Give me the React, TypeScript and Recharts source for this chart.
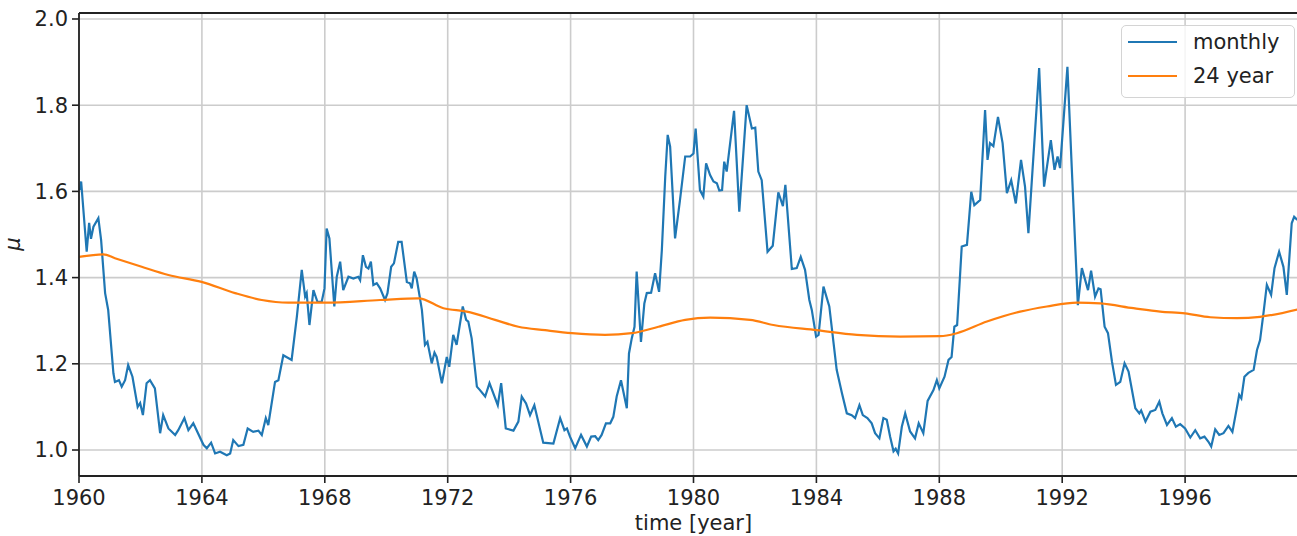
import React from 'react';
import { LineChart, Line, XAxis, YAxis, CartesianGrid, ReferenceLine, Label } from 'recharts';

// monthly mu (time in decimal years)
const monthlyT = [
  1960.03, 1960.07, 1960.25, 1960.33, 1960.39, 1960.47, 1960.63, 1960.72, 1960.85, 1960.95,
  1961.12, 1961.17, 1961.3, 1961.39, 1961.5, 1961.6, 1961.74, 1961.91, 1961.99, 1962.08,
  1962.2, 1962.31, 1962.47, 1962.64, 1962.74, 1962.91, 1963.13, 1963.23, 1963.43, 1963.56,
  1963.72, 1964.05, 1964.16, 1964.3, 1964.43, 1964.59, 1964.81, 1964.92, 1965.02, 1965.19,
  1965.35, 1965.49, 1965.67, 1965.84, 1965.95, 1966.08, 1966.16, 1966.38, 1966.49, 1966.65,
  1966.92, 1967.09, 1967.25, 1967.36, 1967.41, 1967.5, 1967.63, 1967.76, 1967.9, 1967.99,
  1968.06, 1968.15, 1968.31, 1968.39, 1968.5, 1968.6, 1968.77, 1968.93, 1969.09, 1969.15,
  1969.24, 1969.34, 1969.42, 1969.5, 1969.58, 1969.69, 1969.8, 1969.96, 1970.04, 1970.16,
  1970.25, 1970.39, 1970.5, 1970.67, 1970.77, 1970.83, 1970.91, 1970.99, 1971.16, 1971.26,
  1971.34, 1971.48, 1971.57, 1971.64, 1971.81, 1971.97, 1972.05, 1972.18, 1972.29, 1972.49,
  1972.6, 1972.67, 1972.78, 1972.95, 1973.05, 1973.22, 1973.36, 1973.63, 1973.74, 1973.89,
  1974.14, 1974.3, 1974.41, 1974.55, 1974.68, 1974.82, 1975.11, 1975.44, 1975.66, 1975.8,
  1975.88, 1975.98, 1976.15, 1976.34, 1976.53, 1976.67, 1976.8, 1976.9, 1977.01, 1977.15,
  1977.29, 1977.39, 1977.5, 1977.64, 1977.83, 1977.9, 1977.99, 1978.08, 1978.15, 1978.29,
  1978.4, 1978.48, 1978.62, 1978.75, 1978.88, 1978.97, 1979.08, 1979.16, 1979.24, 1979.4,
  1979.56, 1979.73, 1979.89, 1980.0, 1980.07, 1980.21, 1980.32, 1980.41, 1980.54, 1980.65,
  1980.76, 1980.84, 1980.93, 1981.0, 1981.08, 1981.32, 1981.49, 1981.73, 1981.9, 1982.01,
  1982.11, 1982.22, 1982.41, 1982.58, 1982.76, 1982.91, 1982.99, 1983.2, 1983.36, 1983.49,
  1983.63, 1983.77, 1983.85, 1983.99, 1984.07, 1984.23, 1984.42, 1984.66, 1984.83, 1984.99,
  1985.15, 1985.26, 1985.4, 1985.51, 1985.66, 1985.8, 1985.91, 1986.05, 1986.18, 1986.29,
  1986.4, 1986.51, 1986.58, 1986.66, 1986.78, 1986.89, 1987.05, 1987.21, 1987.33, 1987.48,
  1987.62, 1987.81, 1987.92, 1988.0, 1988.17, 1988.3, 1988.4, 1988.49, 1988.58, 1988.73,
  1988.9, 1989.04, 1989.14, 1989.33, 1989.49, 1989.57, 1989.65, 1989.76, 1989.91, 1990.06,
  1990.2, 1990.34, 1990.49, 1990.66, 1990.79, 1990.9, 1991.25, 1991.41, 1991.63, 1991.75,
  1991.85, 1991.93, 1992.17, 1992.31, 1992.51, 1992.64, 1992.84, 1992.94, 1993.07, 1993.18,
  1993.25, 1993.38, 1993.49, 1993.62, 1993.75, 1993.89, 1994.03, 1994.16, 1994.38, 1994.51,
  1994.57, 1994.71, 1994.87, 1995.03, 1995.16, 1995.26, 1995.41, 1995.57, 1995.7, 1995.84,
  1996.0, 1996.17, 1996.33, 1996.49, 1996.63, 1996.76, 1996.85, 1996.98, 1997.11, 1997.25,
  1997.41, 1997.54, 1997.69, 1997.76, 1997.83, 1997.93, 1998.06, 1998.23, 1998.34, 1998.44,
  1998.55, 1998.66, 1998.8, 1998.91, 1999.06, 1999.2, 1999.31, 1999.47, 1999.55, 1999.65,
];

const monthlyMu = [
  1.603, 1.623, 1.46, 1.527, 1.49, 1.518, 1.538, 1.487, 1.364, 1.325,
  1.178, 1.158, 1.162, 1.147, 1.162, 1.197, 1.17, 1.1, 1.109, 1.081,
  1.155, 1.162, 1.143, 1.039, 1.081, 1.05, 1.035, 1.046, 1.074, 1.046,
  1.062, 1.012, 1.004, 1.017, 0.992, 0.996, 0.988, 0.992, 1.023, 1.009,
  1.012, 1.05, 1.042, 1.045, 1.035, 1.074, 1.058, 1.158, 1.162, 1.22,
  1.209, 1.309, 1.418, 1.356, 1.364, 1.29, 1.371, 1.344, 1.344, 1.375,
  1.514, 1.491, 1.333, 1.402, 1.437, 1.371, 1.402, 1.398, 1.402, 1.394,
  1.452, 1.425, 1.421, 1.437, 1.383, 1.387, 1.375, 1.348, 1.364, 1.425,
  1.433, 1.483, 1.483, 1.39, 1.387, 1.375, 1.414, 1.398, 1.325, 1.244,
  1.251, 1.201, 1.226, 1.216, 1.155, 1.216, 1.193, 1.267, 1.244, 1.333,
  1.302, 1.298, 1.259, 1.147, 1.139, 1.124, 1.155, 1.104, 1.155, 1.05,
  1.045, 1.066, 1.124, 1.108, 1.081, 1.104, 1.017, 1.015, 1.074, 1.046,
  1.05, 1.031, 1.004, 1.035, 1.008, 1.031, 1.032, 1.023, 1.035, 1.062,
  1.062, 1.077, 1.124, 1.162, 1.097, 1.224, 1.259, 1.286, 1.414, 1.251,
  1.34, 1.364, 1.365, 1.41, 1.367, 1.464, 1.634, 1.731, 1.704, 1.491,
  1.58, 1.681, 1.681, 1.688, 1.746, 1.603, 1.588, 1.665, 1.638, 1.623,
  1.619, 1.602, 1.603, 1.669, 1.646, 1.787, 1.553, 1.8, 1.746, 1.748,
  1.646, 1.626, 1.46, 1.474, 1.598, 1.566, 1.615, 1.42, 1.422, 1.448,
  1.418, 1.348, 1.325, 1.263, 1.267, 1.379, 1.333, 1.186, 1.132, 1.085,
  1.081, 1.074, 1.104, 1.081, 1.074, 1.062, 1.039, 1.027, 1.074, 1.07,
  1.031, 0.997, 1.003, 0.992, 1.054, 1.085, 1.043, 1.027, 1.062, 1.039,
  1.114, 1.139, 1.162, 1.143, 1.17, 1.209, 1.216, 1.286, 1.29, 1.472,
  1.476, 1.599, 1.568, 1.58, 1.789, 1.673, 1.712, 1.705, 1.773, 1.712,
  1.596, 1.626, 1.572, 1.673, 1.611, 1.503, 1.886, 1.611, 1.719, 1.65,
  1.681, 1.654, 1.889, 1.657, 1.336, 1.422, 1.371, 1.416, 1.356, 1.375,
  1.373, 1.286, 1.271, 1.205, 1.151, 1.158, 1.201, 1.182, 1.097, 1.085,
  1.092, 1.066, 1.089, 1.093, 1.112, 1.085, 1.058, 1.074, 1.054, 1.06,
  1.05, 1.029, 1.046, 1.027, 1.031, 1.019, 1.008, 1.048, 1.035, 1.039,
  1.056, 1.042, 1.1, 1.128, 1.12, 1.17, 1.179, 1.186, 1.232, 1.255,
  1.317, 1.383, 1.36, 1.422, 1.46, 1.425, 1.36, 1.526, 1.541, 1.534,
];

// 24 year running mean
const trendT = [
  1960.0, 1960.79, 1961.17, 1962.04, 1962.91, 1963.99, 1965.08, 1965.95, 1966.81, 1968.01,
  1969.8, 1971.05, 1971.86, 1972.62, 1973.54, 1974.3, 1975.17, 1976.04, 1977.12, 1977.99,
  1978.86, 1979.73, 1980.54, 1981.84, 1982.6, 1984.01, 1985.32, 1986.73, 1988.03, 1988.57,
  1989.55, 1990.63, 1991.5, 1992.48, 1993.24, 1994.32, 1995.19, 1996.0, 1996.82, 1997.69,
  1998.44, 1999.65,
];

const trendMu = [
  1.448, 1.454, 1.445, 1.425, 1.406, 1.39, 1.364, 1.348, 1.342, 1.342,
  1.348, 1.352, 1.329, 1.321, 1.302, 1.286, 1.278, 1.271, 1.267, 1.271,
  1.286, 1.302, 1.307, 1.302, 1.29, 1.278, 1.267, 1.263, 1.264, 1.271,
  1.298, 1.321, 1.333, 1.342, 1.34, 1.329, 1.321, 1.317, 1.308, 1.306,
  1.309, 1.326,
];

const xTicks = [1960, 1964, 1968, 1972, 1976, 1980, 1984, 1988, 1992, 1996];
const yTicks = [1.0, 1.2, 1.4, 1.6, 1.8, 2.0];

const monthly = monthlyT.map((t, i) => ({ t, mu: monthlyMu[i] }));
const trend = trendT.map((t, i) => ({ t, mu: trendMu[i] }));

const BLUE = '#1f77b4';
const ORANGE = '#ff7f0e';
const FONT = '"DejaVu Sans", sans-serif';
const Y_MIN = 0.9397;
const Y_MAX = 2.0139;

const tickStyle = { fontSize: 21, fill: '#222', fontFamily: FONT };

const LegendBox = () => (
  <div
    style={{
      position: 'absolute',
      left: 1121,
      top: 25,
      width: 174,
      height: 73,
      boxSizing: 'border-box',
      border: '1.5px solid #d4d4d4',
      borderRadius: 5,
      background: 'rgba(255,255,255,0.8)',
    }}
  >
    <svg width={172} height={71} style={{ display: 'block' }}>
      <line x1={6} x2={55} y1={16} y2={16} stroke={BLUE} strokeWidth={2.2} />
      <text x={71} y={23} fontSize={21} fill="#222" fontFamily={FONT}>monthly</text>
      <line x1={6} x2={55} y1={50} y2={50} stroke={ORANGE} strokeWidth={2.2} />
      <text x={71} y={57} fontSize={21} fill="#222" fontFamily={FONT}>24 year</text>
    </svg>
  </div>
);

export default function App() {
  return (
    <div
      style={{
        position: 'absolute',
        left: 0,
        top: 0,
        width: 1297,
        height: 536,
        overflow: 'hidden',
        background: '#fff',
        fontFamily: FONT,
      }}
    >
      <LineChart width={1320} height={536} margin={{ top: 13, right: 12, left: 0, bottom: 30 }}>
        <CartesianGrid stroke="#cccccc" strokeWidth={1.6} />
        <XAxis
          dataKey="t"
          type="number"
          domain={[1960, 2000]}
          ticks={xTicks}
          allowDataOverflow
          height={30}
          tick={tickStyle}
          tickSize={7}
          tickMargin={7}
          axisLine={{ stroke: '#222', strokeWidth: 1.8 }}
          tickLine={{ stroke: '#222', strokeWidth: 1.6 }}
        >
          <Label value="time [year]" position="bottom" offset={9} style={{ fontSize: 21, fill: '#222', fontFamily: FONT }} />
        </XAxis>
        <YAxis
          type="number"
          domain={[Y_MIN, Y_MAX]}
          ticks={yTicks}
          allowDataOverflow
          width={79}
          tickFormatter={(v: number) => v.toFixed(1)}
          tick={tickStyle}
          tickSize={7}
          tickMargin={4}
          axisLine={{ stroke: '#222', strokeWidth: 1.8 }}
          tickLine={{ stroke: '#222', strokeWidth: 1.6 }}
        >
          <Label
            content={() => (
              <text
                x={20}
                y={244}
                transform="rotate(-90, 20, 244)"
                textAnchor="middle"
                fontSize={21}
                fontStyle="italic"
                fill="#222"
                fontFamily={FONT}
              >
                μ
              </text>
            )}
          />
        </YAxis>
        <ReferenceLine y={Y_MAX} stroke="#222" strokeWidth={1.8} ifOverflow="visible" />
        <Line
          data={monthly}
          dataKey="mu"
          type="linear"
          stroke={BLUE}
          strokeWidth={2.2}
          dot={false}
          isAnimationActive={false}
        />
        <Line
          data={trend}
          dataKey="mu"
          type="monotone"
          stroke={ORANGE}
          strokeWidth={2.2}
          dot={false}
          isAnimationActive={false}
        />
      </LineChart>
      <LegendBox />
    </div>
  );
}
